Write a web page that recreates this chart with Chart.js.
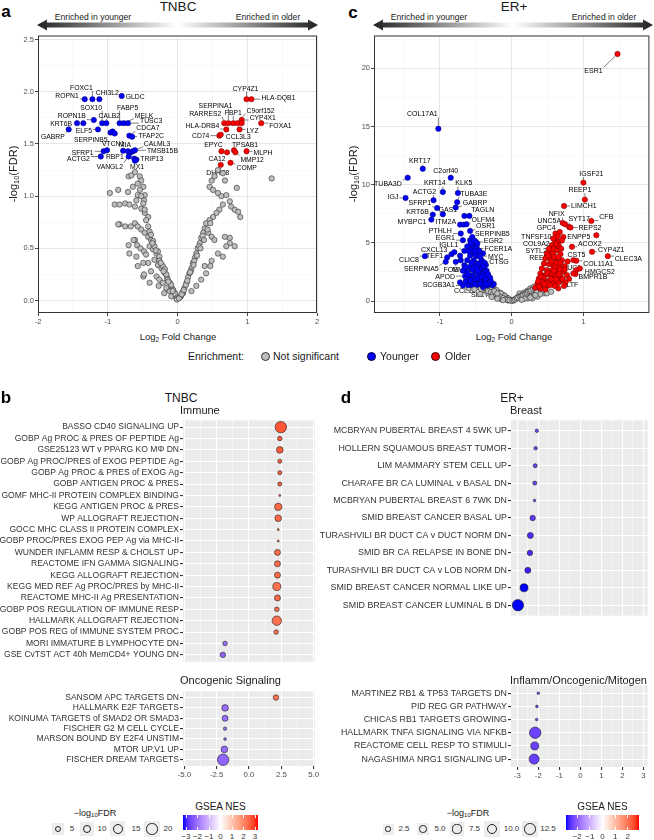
<!DOCTYPE html>
<html><head><meta charset="utf-8">
<script src="https://cdn.jsdelivr.net/npm/chart.js@4.4.1/dist/chart.umd.min.js"></script>
<style>
html,body{margin:0;padding:0;background:#fff;}
#fig{position:relative;width:654px;height:840px;overflow:hidden;font-family:"Liberation Sans",Arial,sans-serif;color:#1a1a1a;}
#fig canvas{position:absolute;}
.t{position:absolute;white-space:nowrap;line-height:1;}
.t sub{font-size:0.68em;vertical-align:-0.3em;line-height:0;}
.box{position:absolute;background:#EDEDED;}
.dot{position:absolute;border-radius:50%;box-sizing:border-box;}
</style></head><body>
<div id="fig">
<svg id="arrows" width="654" height="40" style="position:absolute;left:0;top:0"></svg>
<canvas id="cA" width="330" height="300" style="left:0;top:30px"></canvas>
<canvas id="cC" width="319" height="300" style="left:335px;top:30px"></canvas>
<canvas id="cB1" width="330" height="254" style="left:0;top:414px"></canvas>
<canvas id="cB2" width="330" height="100" style="left:0;top:685px"></canvas>
<canvas id="cD1" width="334" height="208" style="left:320px;top:414px"></canvas>
<canvas id="cD2" width="334" height="106" style="left:320px;top:679px"></canvas>
</div>
<script>
// ---- panel a: TNBC volcano (log2FC, -log10 FDR) ----
const tnbcGray = [
 [-0.70,1.19],[-0.66,1.20],[-0.61,1.23],[-0.54,1.19],[-0.52,1.15],[-0.57,1.12],[-0.64,1.09],[-0.71,1.04],
 [-0.49,1.09],[-0.47,1.01],[-0.48,0.96],[-0.57,1.01],[-0.59,0.96],[-0.97,1.03],[-0.85,1.06],[-0.90,0.92],
 [-0.83,0.92],[-0.75,0.93],[-0.69,0.92],[-0.61,0.90],[-0.52,0.88],[-0.47,0.84],[-0.42,0.80],[-0.83,0.73],
 [-0.75,0.71],[-0.67,0.71],[-0.61,0.74],[-0.57,0.71],[-0.52,0.68],[-0.47,0.65],[-0.42,0.61],[-0.38,0.58],
 [-0.61,0.58],[-0.58,0.53],[-0.53,0.50],[-0.48,0.47],[-0.69,0.45],[-0.59,0.42],[-0.40,0.52],[-0.35,0.49],
 [-0.30,0.45],[-0.26,0.42],[-0.33,0.39],[-0.28,0.34],[-0.23,0.31],[-0.18,0.26],[-0.15,0.22],[-0.11,0.17],
 [-0.08,0.12],[-0.04,0.07],[-0.42,0.36],[-0.38,0.28],[-0.30,0.23],[-0.26,0.20],[-0.21,0.17],[-0.16,0.12],
 [-0.11,0.09],[-0.45,0.44],[-0.57,0.33],[-0.49,0.23],[-0.40,0.17],[-0.27,0.14],[-0.19,0.07],[-0.09,0.04],
 [-0.02,0.03],[-0.54,1.06],[-0.52,1.00],[-0.49,0.93],[-0.47,0.87],[-0.45,0.77],[-0.42,0.71],[-0.40,0.66],
 [-0.38,0.63],[-0.35,0.57],[-0.33,0.52],[-0.28,0.47],[-0.26,0.38],[-0.21,0.33],[-0.18,0.30],[-0.16,0.25],
 [-0.14,0.20],[-0.09,0.15],[-0.06,0.10],[-0.03,0.06],[0.00,0.03],[-0.85,0.73],[-0.70,0.53],[-0.63,0.58],
 [-0.49,0.36],[-0.48,0.25],[-0.36,0.55],[-0.31,0.48],[-0.24,0.36],[-0.20,0.28],[-0.13,0.18],[-0.07,0.09],
 [-0.01,0.01],
 [0.49,1.15],[0.53,1.19],[0.58,1.25],[0.65,1.22],[0.68,1.15],[0.46,1.09],[0.51,1.06],[0.58,1.03],
 [0.63,1.00],[0.70,1.01],[0.75,0.95],[0.77,0.90],[0.82,0.87],[0.87,0.85],[0.65,0.92],[0.60,0.87],
 [0.56,0.84],[0.51,0.80],[0.46,0.77],[0.41,0.74],[0.39,0.69],[0.37,0.65],[0.34,0.60],[0.32,0.55],
 [0.29,0.50],[0.27,0.45],[0.25,0.41],[0.22,0.36],[0.20,0.31],[0.17,0.26],[0.15,0.22],[0.13,0.17],
 [0.10,0.12],[0.08,0.07],[0.05,0.04],[0.44,0.65],[0.49,0.61],[0.53,0.58],[0.68,0.61],[0.75,0.55],
 [0.82,0.52],[0.58,0.45],[0.65,0.42],[0.49,0.38],[0.39,0.33],[0.41,0.26],[0.34,0.20],[0.27,0.14],
 [0.20,0.09],[1.35,1.17],[0.85,1.08],[0.90,0.80],[0.70,0.52],[0.75,0.60],[0.47,0.33],[0.36,0.62],
 [0.31,0.52],[0.24,0.38],[0.19,0.28],[0.12,0.15],[0.07,0.08],[0.03,0.03],[0.02,0.02],[0.06,0.06],
 [0.09,0.10],[0.14,0.19],[0.18,0.27],[0.23,0.34],[0.28,0.43],[0.33,0.50],[0.38,0.58],[0.43,0.68],
 [0.47,0.74]
];
const tnbcYoung = [
 ['ROPN1',-1.33,1.93],['FOXC1',-1.22,1.93],['CHI3L2',-1.12,1.93],['GLDC',-0.80,1.96],
 ['ROPN1B',-1.20,1.73],['SOX10',-1.08,1.70],['CALB2',-1.02,1.70],['KRT6B',-1.44,1.70],['',-1.35,1.70],
 ['FABP5',-0.83,1.70],['MELK',-0.77,1.70],['TUSC3',-0.71,1.70],['GABRP',-1.56,1.64],['ELF5',-1.14,1.64],
 ['SERPINB5',-0.96,1.61],['',-0.93,1.62],['',-0.90,1.60],['CDCA7',-0.69,1.58],['TFAP2C',-0.65,1.57],
 ['SFRP1',-1.06,1.43],['',-1.01,1.44],['ACTG2',-1.10,1.38],['VTCN1',-0.78,1.435],['MIA',-0.71,1.43],
 ['VANGL2',-0.67,1.42],['CALML3',-0.64,1.43],['TMSB15B',-0.61,1.44],['RBP1',-0.70,1.38],['TRIP13',-0.62,1.36],
 ['',-0.59,1.35],['MX1',-0.61,1.34]
];
const tnbcOld = [
 ['CYP4Z1',0.99,1.93],['HLA-DQB1',1.06,1.93],['RARRES2',0.67,1.70],['SERPINA1',0.73,1.70],['FBP1',0.80,1.70],
 ['C9orf152',0.86,1.70],['CYP4X1',0.92,1.73],['',0.92,1.70],['FOXA1',1.20,1.70],['HLA-DRB4',0.70,1.64],
 ['LYZ',0.89,1.64],['CD74',0.60,1.58],['CCL3L3',0.62,1.59],['EPYC',0.63,1.43],['CA12',0.71,1.42],
 ['TPSAB1',0.81,1.44],['MMP12',0.83,1.42],['MLPH',0.99,1.43],['DHRS8',0.62,1.30],['COMP',0.76,1.32]
];
// label placement: gene, dx, dy (px from point), anchor side
const tnbcLabelPos = [
 ['ROPN1',-6,-4,'r'],['FOXC1',-11,-12,'c'],['CHI3L2',8,-7,'c'],['GLDC',4,1,'l'],['ROPN1B',-8,-4,'r'],
 ['SOX10',-11,-16,'c'],['CALB2',3,-8,'c'],['KRT6B',-5,0,'r'],['FABP5',8,-16,'c'],['MELK',11,-8,'l'],
 ['TUSC3',12,-3,'l'],['GABRP',-4,7,'r'],['ELF5',-6,1,'r'],['SERPINB5',-3,7,'r'],['CDCA7',7,-8,'l'],
 ['TFAP2C',6,-1,'l'],['SFRP1',-10,1,'r'],['ACTG2',-11,2,'r'],['VTCN1',-10,-7,'c'],['MIA',-3,-7,'c'],
 ['CALML3',11,-8,'l'],['TMSB15B',12,0,'l'],['RBP1',-5,0,'r'],['TRIP13',6,0,'l'],['VANGL2',-21,14,'c'],
 ['MX1',2,6,'c'],
 ['CYP4Z1',-1,-11,'c'],['HLA-DQB1',10,-2,'l'],['RARRES2',-19,-10,'c'],['SERPINA1',-13,-18,'c'],
 ['FBP1',0,-11,'c'],['C9orf152',23,-13,'c'],['CYP4X1',8,-2,'l'],['FOXA1',8,2,'l'],['HLA-DRB4',-7,-4,'r'],
 ['LYZ',7,1,'l'],['CD74',-10,0,'r'],['CCL3L3',5,2,'l'],['EPYC',-8,-7,'c'],['CA12',-10,6,'c'],
 ['TPSAB1',11,-6,'c'],['MMP12',5,7,'l'],['MLPH',7,1,'l'],['DHRS8',-3,8,'c'],['COMP',6,5,'l']
];

// ---- panel c: ER+ volcano ----
const erGray = [
 [-0.32,1.25],[-0.25,1.09],[-0.21,0.94],[-0.16,0.71],[-0.11,0.51],[-0.07,0.31],[-0.04,0.14],[0.00,0.03],
 [-0.37,1.09],[-0.30,0.89],[-0.23,0.71],[-0.18,0.51],[-0.14,0.37],[-0.09,0.23],[-0.41,0.94],[-0.34,0.71],
 [-0.27,0.51],[-0.21,0.31],[-0.14,0.14],[-0.15,0.66],[-0.10,0.43],[-0.05,0.23],[-0.01,0.09],[0.04,0.14],
 [0.08,0.31],[0.13,0.51],[0.17,0.71],[0.22,0.89],[0.26,1.09],[0.31,1.23],[0.11,0.66],[0.17,0.37],
 [0.24,0.51],[0.31,0.71],[0.38,0.80],[0.45,0.66],[0.36,0.37],[0.29,0.23],[0.49,0.66],[0.22,0.23],
 [-0.48,1.20],[-0.52,1.00],[-0.44,0.60],[-0.05,0.05],[0.02,0.05],[0.06,0.20],[0.10,0.40],[0.15,0.55],
 [0.20,0.75],[0.35,1.10],[0.40,0.95],[0.55,0.80],[-0.60,1.10],[-0.28,1.20],[0.28,0.95],
 [-0.35,1.00],[-0.33,0.85],[-0.29,0.75],[-0.26,0.62],[-0.22,0.55],[-0.19,0.42],[-0.16,0.33],[-0.12,0.26],
 [-0.08,0.16],[-0.06,0.10],[-0.03,0.06],[0.01,0.02],[0.03,0.08],[0.05,0.13],[0.07,0.25],[0.09,0.28],
 [0.12,0.36],[0.14,0.44],[0.16,0.47],[0.19,0.60],[0.21,0.66],[0.23,0.79],[0.25,0.85],[0.27,0.90],
 [0.30,1.00],[0.33,1.05],[-0.39,1.15],[-0.43,1.05],[-0.24,0.85],[-0.20,0.65],[0.35,0.85],[0.42,0.90],
 [0.40,0.60],[0.33,0.50],[0.26,0.30],[0.18,0.20],[0.14,0.10],[-0.12,0.08],[-0.20,0.20],[-0.28,0.35]
];
const erYoung = [
 ['TUBA3D',-1.45,10.6],['KRT17',-1.24,11.37],['C2orf40',-0.85,10.6],['KRT14',-0.96,9.37],['KLK5',-0.75,9.29],
 ['COL17A1',-1.023,14.81],['IGJ',-1.48,8.86],['ACTG2',-1.09,8.66],['SFRP1',-1.04,8.0],['TUBA3E',-0.76,8.5],
 ['GABRP',-0.78,8.05],['KRT6B',-1.10,7.43],['GAS1',-0.96,7.46],['MYBPC1',-1.12,7.0],['TAGLN',-0.66,7.32],
 ['',-0.59,7.32],['ITM2A',-0.72,6.57],['',-0.67,6.57],['OLFM4',-0.63,6.6],['PTHLH',-0.71,5.8],
 ['OSR1',-0.58,6.03],['EGR1',-0.68,5.23],['SERPINB5',-0.58,5.23],['EGR2',-0.50,5.09],['IGLL1',-0.66,4.31],
 ['FCER1A',-0.49,4.52],['MYC',-0.47,3.86],['CXCL13',-0.84,4.03],['CTSG',-0.41,3.37],['CLIC8',-1.21,3.86],
 ['TEF1',-0.90,3.75],['SERPINA5',-0.92,3.37],['FOS',-0.78,3.37],['MMP7',-0.55,2.94],['APOD',-0.65,2.14],
 ['SCGB3A1',-0.68,1.33],['CCL19',-0.57,1.37],['SLC7A5',-0.40,1.2],
 ['',-0.55,4.8],['',-0.53,4.51],['',-0.49,4.71],['',-0.47,4.37],['',-0.55,4.09],['',-0.50,3.94],
 ['',-0.42,3.51],['',-0.53,3.51],['',-0.48,3.23],['',-0.43,3.0],['',-0.39,2.8],['',-0.37,2.51],
 ['',-0.41,2.37],['',-0.46,2.23],['',-0.50,2.51],['',-0.55,2.23],['',-0.59,2.09],['',-0.34,2.09],
 ['',-0.32,1.8],['',-0.37,1.66],['',-0.41,1.8],['',-0.46,1.57],['',-0.50,1.8],['',-0.55,1.51],
 ['',-0.30,1.51],['',-0.27,1.35],['',-0.34,1.35],['',-0.25,1.46],['',-0.55,5.51],['',-0.57,4.94],
 ['',-0.62,3.51],['',-0.66,3.09],['',-0.59,2.94],['',-0.71,3.51],['',-0.61,1.37],['',-0.80,4.2],
 ['',-0.72,3.9],['',-0.62,4.7],['',-0.52,2.0],['',-0.44,1.9],['',-0.38,2.2],['',-0.36,3.1],
 ['',-0.45,2.7],['',-0.52,3.0],['',-0.40,4.1],['',-0.58,3.9],['',-0.62,2.5],['',-0.68,2.6],
 ['',-0.72,1.6],['',-0.64,1.7],['',-0.48,1.4],['',-0.40,1.4],
 ['',-0.45,4.3],['',-0.44,3.8],['',-0.51,4.3],['',-0.57,4.4],['',-0.38,3.3],['',-0.35,2.6],
 ['',-0.33,2.3],['',-0.30,2.0],['',-0.29,1.7],['',-0.36,1.9],['',-0.42,2.1],['',-0.48,1.95],
 ['',-0.53,1.7],['',-0.58,1.65],['',-0.44,3.2],['',-0.49,2.9],['',-0.55,2.7],['',-0.47,2.6],
 ['',-0.40,3.0],['',-0.32,1.5],['',-0.36,1.45],['',-0.44,1.5],['',-0.51,1.45],['',-0.58,1.8],
 ['',-0.61,2.3],['',-0.65,2.9],['',-0.56,3.3],['',-0.60,4.3],['',-0.52,5.2],['',-0.48,4.95]
];
const erOld = [
 ['ESR1',1.475,21.24],['IGSF21',1.00,10.18],['REEP1',1.02,8.72],['LIMCH1',0.73,8.17],['NFIX',0.71,6.72],
 ['UNC5A',0.745,6.6],['SYT17',0.80,6.37],['CFB',1.11,6.89],['REPS2',0.82,6.32],['GPC4',0.67,5.94],
 ['ENPP5',0.72,5.51],['TNFSF10',0.61,5.46],['COL9A2',0.60,4.95],['ACOX2',0.84,4.66],['SYTL2',0.56,4.37],
 ['CYP4Z1',1.12,4.23],['CLEC3A',1.34,3.86],['CST5',0.86,3.52],['COL11A1',0.90,3.46],['REEP6',0.62,3.66],
 ['MUC1',0.90,2.66],['HMGCS2',0.95,2.8],['BMPR1B',0.89,2.32],['LTF',0.68,1.74],
 ['',1.18,5.66],['',0.61,5.8],['',0.64,5.57],['',0.58,5.37],['',0.65,5.09],['',0.56,4.8],['',0.61,4.6],
 ['',0.54,4.2],['',0.63,4.37],['',0.49,4.09],['',0.58,4.09],['',0.68,4.03],['',0.47,3.66],['',0.54,3.66],
 ['',0.70,3.51],['',0.45,3.23],['',0.52,3.17],['',0.58,3.09],['',0.65,3.0],['',0.74,3.0],['',0.42,2.8],
 ['',0.49,2.66],['',0.56,2.66],['',0.63,2.51],['',0.72,2.51],['',0.40,2.37],['',0.47,2.23],['',0.54,2.23],
 ['',0.61,2.14],['',0.68,2.09],['',0.38,1.94],['',0.45,1.8],['',0.52,1.74],['',0.58,1.66],['',0.65,1.57],
 ['',0.36,1.51],['',0.42,1.37],['',0.49,1.29],['',0.33,1.14],['',0.40,1.05],['',0.47,1.0],['',0.65,1.09],
 ['',0.77,2.23],['',0.86,2.37],['',0.80,1.9],['',0.75,1.6],['',0.70,2.8],['',0.78,3.4],['',0.66,4.7],
 ['',0.70,5.2],
 ['',0.44,2.0],['',0.50,2.4],['',0.57,2.4],['',0.60,2.9],['',0.67,2.7],['',0.55,3.4],['',0.62,3.3],
 ['',0.68,3.3],['',0.51,3.9],['',0.59,3.8],['',0.65,3.8],['',0.57,4.5],['',0.52,4.5],['',0.62,4.9],
 ['',0.41,2.1],['',0.37,1.7],['',0.43,1.6],['',0.50,1.55],['',0.55,1.9],['',0.62,1.85],['',0.71,1.9],
 ['',0.73,1.3],['',0.60,1.3],['',0.53,1.35],['',0.38,1.25],['',0.46,1.45],['',0.66,2.3],['',0.59,2.6],
 ['',0.74,2.7],['',0.69,4.5]
];
const erLabelPos = [
 ['ESR1',-24,17,'c'],['COL17A1',-16,-15,'c'],['KRT17',-3,-8,'c'],['TUBA3D',-6,6,'r'],['C2orf40',-5,-7,'c'],
 ['KRT14',-8,-9,'c'],['KLK5',6,-10,'c'],['IGJ',-7,-1,'r'],['ACTG2',-9,-9,'c'],['SFRP1',-6,-5,'r'],
 ['TUBA3E',3,-9,'l'],['GABRP',7,-5,'l'],['KRT6B',-4,-3,'r'],['GAS1',5,-5,'c'],['MYBPC1',-5,2,'r'],
 ['TAGLN',7,-6,'l'],['ITM2A',-4,-3,'r'],['OLFM4',5,-5,'l'],['PTHLH',-9,-3,'r'],['OSR1',6,-5,'l'],
 ['EGR1',-8,-3,'r'],['SERPINB5',5,-7,'l'],['EGR2',8,-1,'l'],['IGLL1',-6,-6,'r'],['FCER1A',8,0,'l'],
 ['MYC',10,0,'l'],['CXCL13',-4,-5,'r'],['CTSG',7,0,'l'],['CLIC8',-6,3,'r'],['TEF1',-4,-2,'r'],
 ['SERPINA5',-7,7,'r'],['FOS',-5,8,'c'],['MMP7',-10,3,'c'],['APOD',-10,0,'r'],['SCGB3A1',-8,-1,'r'],
 ['CCL19',-6,5,'c'],['SLC7A5',-12,7,'l'],
 ['IGSF21',8,-9,'c'],['REEP1',-5,-10,'c'],['LIMCH1',7,0,'l'],['NFIX',-6,-9,'c'],['UNC5A',-4,-4,'r'],
 ['SYT17',10,-8,'c'],['CFB',8,-4,'l'],['REPS2',8,0,'l'],['GPC4',-4,-4,'r'],['ENPP5',4,0,'l'],
 ['TNFSF10',-4,-1,'r'],['COL9A2',-5,0,'r'],['ACOX2',6,-3,'l'],['SYTL2',-5,0,'r'],['CYP4Z1',6,-2,'l'],
 ['CLEC3A',7,2,'l'],['CST5',3,-6,'c'],['COL11A1',7,3,'l'],['REEP6',-4,-1,'r'],['MUC1',-5,-3,'c'],
 ['HMGCS2',5,3,'l'],['BMPR1B',3,3,'l'],['LTF',6,4,'l']
];

// ---- panel b: TNBC GSEA ----
const tnbcImmune = ['BASSO CD40 SIGNALING UP','GOBP Ag PROC & PRES OF PEPTIDE Ag','GSE25123 WT v PPARG KO MΦ DN',
 'GOBP Ag PROC/PRES of EXOG PEPTIDE Ag','GOBP Ag PROC & PRES of EXOG Ag','GOBP ANTIGEN PROC & PRES',
 'GOMF MHC-II PROTEIN COMPLEX BINDING','KEGG ANTIGEN PROC & PRES','WP ALLOGRAFT REJECTION',
 'GOCC MHC CLASS II PROTEIN COMPLEX','GOBP PROC/PRES EXOG PEP Ag via MHC-II','WUNDER INFLAMM RESP & CHOLST UP',
 'REACTOME IFN GAMMA SIGNALING','KEGG ALLOGRAFT REJECTION','KEGG MED REF Ag PROC/PRES by MHC-II',
 'REACTOME MHC-II Ag PRESENTATION','GOBP POS REGULATION OF IMMUNE RESP','HALLMARK ALLOGRAFT REJECTION',
 'GOBP POS REG of IMMUNE SYSTEM PROC','MORI IMMATURE B LYMPHOCYTE DN','GSE CvTST ACT 40h MemCD4+ YOUNG DN'];
const tnbcImmuneNES = [2.46,2.38,2.38,2.38,2.38,2.38,2.38,2.26,2.26,2.26,2.26,2.2,2.2,2.2,2.15,2.2,2.15,2.15,2.1,-1.85,-2.02];
const tnbcImmuneFDR = [20.2,2.7,5.8,2.2,2.2,2.2,1.3,7.5,5.8,1.3,1.3,4.7,4.7,4.7,9.0,4.7,2.7,13.0,2.7,2.7,3.8];
const tnbcOnco = ['SANSOM APC TARGETS DN','HALLMARK E2F TARGETS','KOINUMA TARGETS of SMAD2 OR SMAD3',
 'FISCHER G2 M CELL CYCLE','MARSON BOUND BY E2F4 UNSTIM','MTOR UP.V1 UP','FISCHER DREAM TARGETS'];
const tnbcOncoNES = [2.08,-1.85,-1.85,-1.85,-1.85,-1.9,-2.0];
const tnbcOncoFDR = [3.8,5.8,4.7,1.7,1.4,5.8,20.2];

// ---- panel d: ER+ GSEA ----
const erBreast = ['MCBRYAN PUBERTAL BREAST 4 5WK UP','HOLLERN SQUAMOUS BREAST TUMOR','LIM MAMMARY STEM CELL UP',
 'CHARAFE BR CA LUMINAL v BASAL DN','MCBRYAN PUBERTAL BREAST 6 7WK DN','SMID BREAST CANCER BASAL UP',
 'TURASHVILI BR DUCT CA v DUCT NORM DN','SMID BR CA RELAPSE IN BONE DN','TURASHVILI BR DUCT CA v LOB NORM DN',
 'SMID BREAST CANCER NORMAL LIKE UP','SMID BREAST CANCER LUMINAL B DN'];
const erBreastNES = [-2.07,-2.13,-2.15,-2.17,-2.18,-2.27,-2.38,-2.4,-2.5,-2.68,-2.97];
const erBreastFDR = [1.55,1.55,1.8,1.8,1.34,2.74,3.3,2.74,3.3,5.8,12.3];
const erInflamm = ['MARTINEZ RB1 & TP53 TARGETS DN','PID REG GR PATHWAY','CHICAS RB1 TARGETS GROWING',
 'HALLMARK TNFA SIGNALING VIA NFKB','REACTOME CELL RESP TO STIMULI','NAGASHIMA NRG1 SIGNALING UP'];
const erInflammNES = [-2.0,-2.07,-2.08,-2.15,-2.17,-2.2];
const erInflammFDR = [1.34,1.34,1.34,12.3,5.8,9.3];

const sizeBreaksB = [5,10,15,20];
const sizeBreaksD = [2.5,5,7.5,10,12.5];
const nesTicksB = [-3,-2,-1,0,1,2,3];
const nesTicksD = [-2,-1,0,1,2];

// ---------------------------------------------------------------
const FONT = '"Liberation Sans", Arial, sans-serif';
Chart.defaults.font.family = FONT;

function lin(c){ c/=255; return c<=0.04045 ? c/12.92 : Math.pow((c+0.055)/1.055,2.4); }
function unlin(c){ c = c<=0.0031308 ? 12.92*c : 1.055*Math.pow(c,1/2.4)-0.055; return Math.round(Math.max(0,Math.min(1,c))*255); }
function rgb2lab(rgb){
  const r=lin(rgb[0]), g=lin(rgb[1]), b=lin(rgb[2]);
  const X=(0.4124*r+0.3576*g+0.1805*b)/0.95047, Y=0.2126*r+0.7152*g+0.0722*b, Z=(0.0193*r+0.1192*g+0.9505*b)/1.08883;
  const f=t=> t>0.008856 ? Math.cbrt(t) : 7.787*t+16/116;
  return [116*f(Y)-16, 500*(f(X)-f(Y)), 200*(f(Y)-f(Z))];
}
function lab2rgb(l){
  const fy=(l[0]+16)/116, fx=fy+l[1]/500, fz=fy-l[2]/200;
  const g=t=> t>0.206893 ? t*t*t : (t-16/116)/7.787;
  const X=g(fx)*0.95047, Y=g(fy), Z=g(fz)*1.08883;
  return 'rgb('+unlin(3.2406*X-1.5372*Y-0.4986*Z)+','+unlin(-0.9689*X+1.8758*Y+0.0415*Z)+','+unlin(0.0557*X-0.2040*Y+1.0570*Z)+')';
}
const LW = rgb2lab([255,255,255]), LR = rgb2lab([255,0,0]), LB = rgb2lab([0,0,255]);
function nesColor(v, lim){
  const t = Math.max(-1, Math.min(1, v/lim)), e = t<0 ? LB : LR, k = Math.abs(t);
  return lab2rgb(LW.map((w,i)=> w+(e[i]-w)*k));
}
function sizeR(v, vmax){ return 1 + 4.8*Math.sqrt(Math.max(0, Math.min(1, (v-1.3)/(vmax-1.3)))); }

const panelBox = { id:'box', afterDatasetsDraw(ch){ const a=ch.chartArea, c=ch.ctx;
  c.save(); c.strokeStyle='#333'; c.lineWidth=1; c.strokeRect(a.left+0.5,a.top+0.5,a.right-a.left-1,a.bottom-a.top-1); c.restore(); } };
const panelBg = { id:'bg', beforeDraw(ch){ const a=ch.chartArea, c=ch.ctx;
  c.save(); c.fillStyle='#EBEBEB'; c.fillRect(a.left,a.top,a.right-a.left,a.bottom-a.top); c.restore(); } };

function geneLabels(pts, pos, fs){
  return { id:'genes', beforeDatasetsDraw(ch){
    const c=ch.ctx, x=ch.scales.x, y=ch.scales.y;
    c.save(); c.font=fs+'px '+FONT; c.fillStyle='#000'; c.strokeStyle='#000'; c.lineWidth=0.5; c.textBaseline='middle'; c.textAlign='left';
    pos.forEach(([g,dx,dy,al])=>{
      const p = pts.find(d=>d[0]===g); if(!p) return;
      const px=x.getPixelForValue(p[1]), py=y.getPixelForValue(p[2]);
      const ax=px+dx, ay=py+dy, w=c.measureText(g).width, h=fs*0.75;
      const x0 = al==='l' ? ax : al==='r' ? ax-w : ax-w/2;
      const qx=Math.min(Math.max(px,x0-1),x0+w+1), qy=Math.min(Math.max(py,ay-h/2-1),ay+h/2+1);
      const d=Math.hypot(qx-px,qy-py);
      if(d>4){ c.beginPath(); c.moveTo(px+(qx-px)/d*3, py+(qy-py)/d*3); c.lineTo(qx,qy); c.stroke(); }
      c.fillText(g, x0, ay+0.5);
    });
    c.restore();
  }};
}

function lineScale(min, max, ticks, major, fmt, fit){
  const maj = v => major.includes(v);
  return { type:'linear', min, max, afterFit:fit,
    afterBuildTicks: s=>{ s.ticks = ticks.map(v=>({value:v})); },
    border:{display:false},
    grid:{ color:c=> c.tick && maj(c.tick.value) ? '#E3E3E3' : '#F3F3F3', lineWidth:c=> c.tick && maj(c.tick.value) ? 0.9 : 0.5,
      tickColor:c=> c.tick && maj(c.tick.value) ? '#333' : 'rgba(0,0,0,0)', tickLength:3 },
    ticks:{ autoSkip:false, maxRotation:0, padding:1, color:'#4D4D4D', font:{size:7.5}, callback:v=> maj(v) ? fmt(v) : '' } };
}

function volcano(id, gray, young, old, labelPos, ax){
  const xy = a => a.map(d=>({x:d[d.length-2], y:d[d.length-1]}));
  return new Chart(document.getElementById(id), {
    type:'scatter',
    data:{ datasets:[
      { data:xy(old), backgroundColor:'#FF0000', borderColor:'#600000', borderWidth:0.5, pointRadius:2.7, order:1 },
      { data:xy(young), backgroundColor:'#0000FF', borderColor:'#000060', borderWidth:0.5, pointRadius:2.7, order:2 },
      { data:xy(gray), backgroundColor:'#BEBEBE', borderColor:'#2e2e2e', borderWidth:0.6, pointRadius:2.7, order:3 } ] },
    options:{ responsive:false, devicePixelRatio:1, animation:false, events:[], layout:{padding:ax.pad},
      plugins:{legend:{display:false}, tooltip:{enabled:false}},
      scales:{ x: lineScale(ax.xMin, ax.xMax, ax.xTicks, ax.xMajor, ax.xFmt, s=>{ s.height=ax.xH; }),
               y: lineScale(ax.yMin, ax.yMax, ax.yTicks, ax.yMajor, ax.yFmt, s=>{ s.width=ax.yW; }) } },
    plugins:[geneLabels(young.concat(old), labelPos, ax.font), panelBox]
  });
}

function dotPlot(id, cats, nes, fdr, o){
  const n=cats.length, maj=v=> o.xMajor.includes(v);
  return new Chart(document.getElementById(id), {
    type:'scatter',
    data:{ datasets:[{ data:nes.map((v,i)=>({x:v,y:i})), pointRadius:fdr.map(v=>sizeR(v,o.fdrMax)),
      backgroundColor:nes.map(v=>nesColor(v,o.lim)), borderColor:'#1a1a1a', borderWidth:0.6 }] },
    options:{ responsive:false, devicePixelRatio:1, animation:false, events:[], layout:{padding:o.pad},
      plugins:{legend:{display:false}, tooltip:{enabled:false}},
      scales:{
        x:{ type:'linear', min:o.xMin, max:o.xMax, afterFit:s=>{ s.height=o.xH; },
          afterBuildTicks:s=>{ s.ticks=o.xTicks.map(v=>({value:v})); }, border:{display:false},
          grid:{ color:'#FFFFFF', lineWidth:c=> c.tick && maj(c.tick.value) ? 1.1 : 0.5, drawTicks:o.showX,
            tickColor:c=> c.tick && maj(c.tick.value) ? '#333' : 'rgba(0,0,0,0)', tickLength:3 },
          ticks:{ display:o.showX, autoSkip:false, maxRotation:0, padding:1, color:'#4D4D4D', font:{size:7.8},
            callback:v=> maj(v) ? o.xFmt(v) : '' } },
        y:{ type:'linear', reverse:true, min:-0.6, max:n-0.4, afterFit:s=>{ s.width=o.yW; },
          afterBuildTicks:s=>{ s.ticks=cats.map((c,i)=>({value:i})); }, border:{display:false},
          grid:{ color:'#FFFFFF', lineWidth:1.1, tickColor:'#333', tickLength:3 },
          ticks:{ autoSkip:false, padding:1, color:'#333', font:{size:o.labelSize}, callback:v=> cats[v] } } } },
    plugins:[panelBg]
  });
}

// ---- build charts ----
volcano('cA', tnbcGray, tnbcYoung, tnbcOld, tnbcLabelPos, {
  pad:{top:5,right:13,bottom:0,left:0}, xH:17, yW:38, font:6.8,
  xMin:-2, xMax:2, xTicks:[-2,-1.5,-1,-0.5,0,0.5,1,1.5,2], xMajor:[-2,-1,0,1,2], xFmt:v=>String(v),
  yMin:-0.12, yMax:2.54, yTicks:[0,0.25,0.5,0.75,1,1.25,1.5,1.75,2,2.25,2.5], yMajor:[0,0.5,1,1.5,2,2.5], yFmt:v=>v.toFixed(1) });
volcano('cC', erGray, erYoung, erOld, erLabelPos, {
  pad:{top:5,right:1,bottom:0,left:0}, xH:17, yW:39, font:7,
  xMin:-1.92, xMax:1.92, xTicks:[-1.5,-1,-0.5,0,0.5,1,1.5], xMajor:[-1,0,1], xFmt:v=>String(v),
  yMin:-1.03, yMax:22.83, yTicks:[0,2.5,5,7.5,10,12.5,15,17.5,20,22.5], yMajor:[0,5,10,15,20], yFmt:v=>String(v) });

const fmtB = v => (v<0?'-':'') + Math.abs(v).toFixed(1);
const optB = { xMin:-5.1, xMax:5.1, xTicks:[-5,-3.75,-2.5,-1.25,0,1.25,2.5,3.75,5], xMajor:[-5,-2.5,0,2.5,5], xFmt:fmtB,
  yW:183, lim:3, fdrMax:21, labelSize:8.55 };
dotPlot('cB1', tnbcImmune, tnbcImmuneNES, tnbcImmuneFDR, Object.assign({}, optB, {pad:{top:5,right:15,bottom:5,left:0}, xH:0, showX:false}));
dotPlot('cB2', tnbcOnco, tnbcOncoNES, tnbcOncoFDR, Object.assign({}, optB, {pad:{top:5,right:15,bottom:0,left:0}, xH:19, showX:true}));
const optD = { xMin:-3.3, xMax:3.2, xTicks:[-3,-2.5,-2,-1.5,-1,-0.5,0,0.5,1,1.5,2,2.5,3], xMajor:[-3,-2,-1,0,1,2,3], xFmt:v=>String(v),
  yW:191, lim:2.65, fdrMax:12.8, labelSize:8.85 };
dotPlot('cD1', erBreast, erBreastNES, erBreastFDR, Object.assign({}, optD, {pad:{top:5,right:0,bottom:5,left:0}, xH:0, showX:false}));
dotPlot('cD2', erInflamm, erInflammNES, erInflammFDR, Object.assign({}, optD, {pad:{top:5,right:0,bottom:0,left:0}, xH:18, showX:true}));

// ---- text, arrows and legends ----
const fig = document.getElementById('fig');
function put(html, x, y, o){
  o = o || {};
  const d = document.createElement('div'); d.className='t'; d.innerHTML=html;
  d.style.left=x+'px'; d.style.top=y+'px'; d.style.fontSize=(o.size||10)+'px';
  if(o.bold) d.style.fontWeight='bold';
  if(o.color) d.style.color=o.color;
  const tx = o.align==='l' ? '0' : o.align==='r' ? '-100%' : '-50%';
  d.style.transform='translate('+tx+',-50%)'+(o.rot ? ' rotate('+o.rot+'deg)' : '');
  fig.appendChild(d); return d;
}
function circle(cx, cy, r, fill, stroke){
  const d=document.createElement('div'); d.className='dot';
  d.style.left=(cx-r)+'px'; d.style.top=(cy-r)+'px'; d.style.width=2*r+'px'; d.style.height=2*r+'px';
  d.style.background=fill; d.style.border='0.8px solid '+stroke; fig.appendChild(d);
}
function keyBox(cx, cy, s){
  const d=document.createElement('div'); d.className='box';
  d.style.left=(cx-s/2)+'px'; d.style.top=(cy-s/2)+'px'; d.style.width=s+'px'; d.style.height=s+'px'; fig.appendChild(d);
}
function arrow(x0, x1, y){
  const id='grad'+x0, hl=10, hh=5.5, sh=2.4;
  return '<defs><linearGradient id="'+id+'" gradientUnits="userSpaceOnUse" x1="'+x0+'" x2="'+x1+'" y1="0" y2="0">'+
    '<stop offset="0" stop-color="#222"/><stop offset="0.5" stop-color="#fff"/><stop offset="1" stop-color="#222"/></linearGradient></defs>'+
    '<polygon fill="url(#'+id+')" points="'+[[x0,y],[x0+hl,y-hh],[x0+hl,y-sh],[x1-hl,y-sh],[x1-hl,y-hh],[x1,y],[x1-hl,y+hh],[x1-hl,y+sh],[x0+hl,y+sh],[x0+hl,y+hh]].map(p=>p.join(',')).join(' ')+'"/>';
}
document.getElementById('arrows').innerHTML = arrow(37,318,25) + arrow(373,653,25);

put('a', 6, 11, {size:17, bold:true, color:'#000'});
put('TNBC', 178, 7, {size:13.5});
put('Enriched in younger', 93, 17, {size:8.6});
put('Enriched in older', 268, 17, {size:8.6});
put('c', 353, 12, {size:17, bold:true, color:'#000'});
put('ER+', 514, 7, {size:13.5});
put('Enriched in younger', 429, 17, {size:8.6});
put('Enriched in older', 604, 17, {size:8.6});
put('-log<sub>10</sub>(FDR)', 13, 174, {size:11, rot:-90});
put('-log<sub>10</sub>(FDR)', 353, 174, {size:11, rot:-90});
put('Log<sub>2</sub> Fold Change', 178, 337, {size:9.5});
put('Log<sub>2</sub> Fold Change', 514, 337, {size:9.5});

put('Enrichment:', 244, 356, {size:10.5, align:'r'});
circle(265, 356, 4.5, '#BEBEBE', '#333'); put('Not significant', 273, 356, {size:10.5, align:'l'});
circle(371, 356, 4.5, '#0000FF', '#00003a'); put('Younger', 380, 356, {size:10.5, align:'l'});
circle(435, 356, 4.5, '#FF0000', '#3a0000'); put('Older', 445, 356, {size:10.5, align:'l'});

put('b', 6, 397, {size:17, bold:true, color:'#000'});
put('TNBC', 181, 398, {size:12});
put('Immune', 180, 410, {size:11, align:'l'});
put('Oncogenic Signaling', 180, 680, {size:11, align:'l'});
put('d', 346, 397, {size:17, bold:true, color:'#000'});
put('ER+', 512, 398, {size:12});
put('Breast', 510, 410, {size:11, align:'l'});
put('Inflamm/Oncogenic/Mitogen', 510, 680, {size:11, align:'l'});

function sizeLegend(titleX, cxs, lxs, breaks, vmax, fmt){
  put('−log<sub>10</sub>FDR', titleX, 813, {size:9});
  breaks.forEach((v,i)=>{
    const r = sizeR(v, vmax);
    keyBox(cxs[i], 829, Math.max(2*r+5, 11));
    circle(cxs[i], 829, r, 'transparent', '#222');
    put(fmt(v), lxs[i], 829, {size:8, color:'#333'});
  });
}
sizeLegend(95, [58,87,118,152], [72,102,136,168], sizeBreaksB, 21, v=>String(v));
sizeLegend(468, [388,423,457,492,530], [404,440,474.5,511.5,548], sizeBreaksD, 12.8, v=>v.toFixed(1));

function colorBar(x0, x1, lim, ticks){
  const cx=(x0+x1)/2;
  put('GSEA NES', cx, 807, {size:10});
  const stops=[]; for(let i=0;i<=20;i++){ const v=-lim+2*lim*i/20; stops.push(nesColor(v,lim)+' '+(i*5)+'%'); }
  const bar=document.createElement('div');
  bar.style.cssText='position:absolute;left:'+x0+'px;top:815px;width:'+(x1-x0)+'px;height:15px;background:linear-gradient(to right,'+stops.join(',')+')';
  fig.appendChild(bar);
  ticks.forEach(v=>{
    const px = x0+3+(v+lim)/(2*lim)*(x1-x0-6);
    put(v<0 ? '−'+Math.abs(v) : String(v), px, 837, {size:8, color:'#333'});
    ['815px','827px'].forEach(t=>{ const m=document.createElement('div');
      m.style.cssText='position:absolute;left:'+(px-0.4)+'px;top:'+t+';width:0.8px;height:3px;background:#fff'; fig.appendChild(m); });
  });
}
colorBar(183, 258, 3, nesTicksB);
colorBar(566, 639, 2.65, nesTicksD);
</script></body></html>
